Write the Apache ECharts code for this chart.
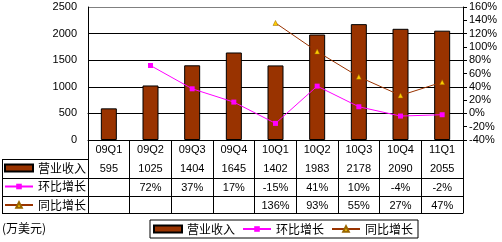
<!DOCTYPE html>
<html>
<head>
<meta charset="utf-8">
<script src="https://cdn.jsdelivr.net/npm/echarts@6/dist/echarts.min.js"></script>
<style>
  html, body { margin: 0; padding: 0; background: #fff; }
  #chart { width: 502px; height: 242px; }
</style>
</head>
<body>
<div id="chart"></div>
<script>
// data
var quarters = ['09Q1', '09Q2', '09Q3', '09Q4', '10Q1', '10Q2', '10Q3', '10Q4', '11Q1'];
var revenue = [595, 1025, 1404, 1645, 1402, 1983, 2178, 2090, 2055];
var qoq = [null, 72, 37, 17, -15, 41, 10, -4, -2];
var yoy = [null, null, null, null, 136, 93, 55, 27, 47];

var numFont = 'Liberation Sans';
var cnFont = 'Noto Sans CJK SC';

function pct(v) {
    return v === null || v === undefined ? '' : v + '%';
}

var chartDom = document.getElementById('chart');
var myChart = echarts.init(chartDom);
var option;

// one extra x axis per table row, the axis line is the row border
function tableRow(offset, values, fmt) {
    return {
        type: 'category',
        gridIndex: 0,
        position: 'bottom',
        offset: offset,
        data: quarters,
        axisLine: { show: true, lineStyle: { color: '#000', width: 1 } },
        axisTick: { show: false },
        splitLine: { show: false },
        axisLabel: {
            show: values !== null,
            interval: 0,
            margin: 4,
            color: '#000',
            fontFamily: numFont,
            fontSize: 11,
            formatter: function (v, i) {
                return values ? fmt(values[i]) : '';
            }
        }
    };
}

var legendData = [{ name: '营业收入', icon: 'rect' }, '环比增长', '同比增长'];

option = {
    animation: false,
    textStyle: { fontFamily: numFont },
    grid: {
        left: 88,
        right: 39,
        top: 7,
        bottom: 102,
        containLabel: false
    },
    legend: [
        {
            orient: 'vertical',
            left: 4,
            top: 161,
            padding: 0,
            itemWidth: 28,
            itemHeight: 7,
            itemGap: 4.5,
            selectedMode: false,
            textStyle: { fontFamily: cnFont, fontSize: 12, color: '#000', lineHeight: 14 },
            data: legendData
        },
        {
            orient: 'horizontal',
            left: 150,
            top: 220,
            padding: [2, 5, 2, 3],
            borderColor: '#000',
            borderWidth: 1,
            itemWidth: 28,
            itemHeight: 7,
            itemGap: 7,
            selectedMode: false,
            textStyle: { fontFamily: cnFont, fontSize: 12, color: '#000', lineHeight: 14 },
            data: legendData
        }
    ],
    xAxis: [
        {
            type: 'category',
            data: quarters,
            position: 'bottom',
            axisLine: { show: true, lineStyle: { color: '#000', width: 1 } },
            axisTick: { show: true, interval: 0, length: 73, lineStyle: { color: '#000' } },
            axisLabel: { interval: 0, margin: 4, color: '#000', fontFamily: numFont, fontSize: 11 }
        },
        tableRow(19, revenue, function (v) { return String(v); }),
        tableRow(38, qoq, pct),
        tableRow(56, yoy, pct),
        tableRow(73, null, null)
    ],
    yAxis: [
        {
            type: 'value',
            min: 0,
            max: 2500,
            interval: 500,
            axisLine: { show: true, lineStyle: { color: '#000' } },
            axisTick: { show: false },
            axisLabel: {
                margin: 11,
                color: '#000',
                fontFamily: numFont,
                fontSize: 11,
                formatter: function (value) {
                    return String(value);
                }
            },
            splitLine: {
                show: true,
                lineStyle: { color: ['#000', '#000', '#000', '#000', '#000', '#808080'], width: 1 }
            }
        },
        {
            type: 'value',
            min: -40,
            max: 160,
            interval: 20,
            position: 'right',
            axisLine: { show: true, lineStyle: { color: '#000' } },
            axisTick: { show: true, length: 4, lineStyle: { color: '#000' } },
            axisLabel: {
                margin: 6,
                color: '#000',
                fontFamily: numFont,
                fontSize: 11,
                formatter: '{value}%'
            },
            splitLine: { show: false }
        }
    ],
    graphic: [
        // left part of the data table
        { type: 'line', shape: { x1: 2, y1: 159.5, x2: 88, y2: 159.5 }, style: { stroke: '#000', lineWidth: 1 } },
        { type: 'line', shape: { x1: 2, y1: 178.5, x2: 88, y2: 178.5 }, style: { stroke: '#000', lineWidth: 1 } },
        { type: 'line', shape: { x1: 2, y1: 196.5, x2: 88, y2: 196.5 }, style: { stroke: '#000', lineWidth: 1 } },
        { type: 'line', shape: { x1: 2, y1: 213.5, x2: 88, y2: 213.5 }, style: { stroke: '#000', lineWidth: 1 } },
        { type: 'line', shape: { x1: 2.5, y1: 159, x2: 2.5, y2: 214 }, style: { stroke: '#000', lineWidth: 1 } },
        {
            type: 'text',
            left: 2,
            top: 222,
            style: { text: '(万美元)', fontFamily: cnFont, fontSize: 12, fill: '#000' }
        }
    ],
    series: [
        {
            name: '营业收入',
            type: 'bar',
            data: revenue,
            barWidth: 16,
            itemStyle: { color: '#993300', borderColor: '#000', borderWidth: 1 }
        },
        {
            name: '环比增长',
            type: 'line',
            yAxisIndex: 1,
            data: qoq,
            symbol: 'rect',
            symbolSize: 5,
            lineStyle: { color: '#ff00ff', width: 1 },
            itemStyle: { color: '#ff00ff' }
        },
        {
            name: '同比增长',
            type: 'line',
            yAxisIndex: 1,
            data: yoy,
            symbol: 'triangle',
            symbolSize: 5,
            lineStyle: { color: '#993300', width: 1 },
            itemStyle: { color: '#ffcc00', borderColor: '#996600', borderWidth: 0.5 }
        }
    ]
};

option && myChart.setOption(option);
</script>
</body>
</html>
